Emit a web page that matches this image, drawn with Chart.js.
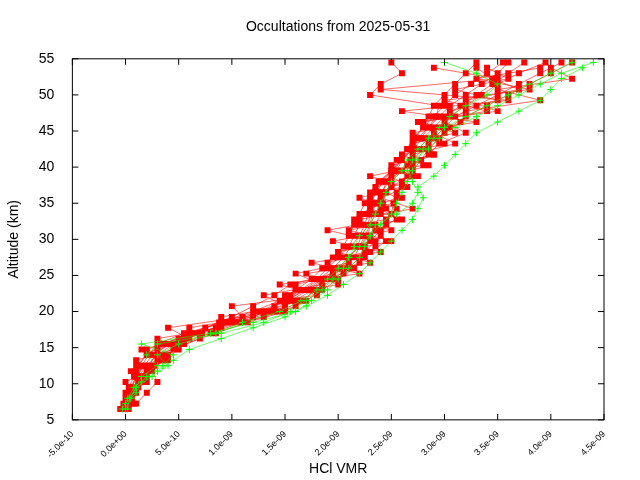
<!DOCTYPE html>
<html><head><meta charset="utf-8">
<script src="https://cdn.jsdelivr.net/npm/chart.js@4"></script>
<style>html,body{margin:0;background:#fff}#w{width:640px;height:480px}</style>
</head><body><div id="w"><canvas id="c"></canvas></div>
<script>
const altitudes=[6.5,8,9.5,11,12.5,14,15.5,17,18.5,20,21.5,23,24.5,26,27.5,29,30.5,32,33.5,35,36.5,38,39.5,41,42.5,44,45.5,47,48.5,50,51.5,53,54.5];
const altitudes2=[7.25,8.75,10.25,11.75,13.25,14.75,16.25,17.75,19.25,20.75,22.25,23.75,25.25,26.75,28.25,29.75,31.25,32.75,34.25,35.75,37.25,38.75,40.25,41.75,43.25,44.75,46.25,47.75,49.25,50.75,52.25,53.75];
// VMR values in units of 1e-9
const red1=[-0.05,0.0,0.05,0.1,0.12,0.2,0.35,0.6,0.9,1.25,1.5,1.65,1.8,1.9,2.0,2.1,2.15,2.2,2.25,2.3,2.35,2.4,2.5,2.55,2.65,2.7,2.8,2.85,2.9,3.0,3.1,3.2,3.3];
const red2=[0.02,0.05,0.1,0.18,0.25,0.35,0.5,0.8,1.1,1.45,1.65,1.8,1.95,2.1,2.2,2.25,2.3,2.35,2.4,2.42,2.45,2.5,2.6,2.7,2.8,2.9,3.0,3.1,3.3,3.5,3.7,3.9,4.1];
const red3=[-0.03,0.02,0.08,0.12,0.2,0.3,0.45,0.7,0.95,1.3,1.5,1.7,1.85,2.0,2.15,2.2,2.25,2.3,2.35,2.4,2.45,2.5,2.55,2.6,2.7,2.75,2.85,2.95,3.05,3.2,3.35,3.5,3.6];
const red4=[0.0,0.04,0.07,0.15,0.22,0.28,0.4,0.65,1.05,1.4,1.6,1.75,1.9,2.05,2.1,2.2,2.28,2.3,2.32,2.35,2.4,2.48,2.58,2.68,2.75,2.85,2.95,3.05,3.2,3.35,3.5,3.7,3.95];
const red5=[-0.04,0.01,0.03,0.08,0.1,0.2,0.38,0.62,0.88,1.2,1.45,1.6,1.75,1.85,1.95,2.05,2.1,2.15,2.2,2.25,2.3,2.38,2.5,2.58,2.65,2.72,2.8,2.9,3.0,3.1,3.25,3.4,3.55];
const red6=[0.03,0.06,0.12,0.2,0.28,0.4,0.55,0.85,1.15,1.5,1.7,1.85,2.0,2.15,2.25,2.35,2.4,2.45,2.5,2.52,2.55,2.6,2.7,2.78,2.85,2.95,3.05,3.2,3.4,3.6,3.8,4.0,4.2];
const red7=[-0.02,0.03,0.06,0.1,0.18,0.25,0.42,0.72,1.0,1.35,1.55,1.72,1.88,2.0,2.1,2.18,2.22,2.28,2.3,2.35,2.42,2.45,2.52,2.6,2.7,2.8,2.9,3.0,3.15,3.3,3.45,3.6,3.75];
const red8=[0.0,0.02,0.05,0.12,0.15,0.22,0.3,0.55,0.95,1.3,1.52,1.68,1.82,1.95,2.05,2.12,2.2,2.25,2.28,2.3,2.36,2.42,2.5,2.6,2.68,2.78,2.85,2.92,2.95,2.3,2.4,2.6,2.5];
const red9=[0.05,0.1,0.0,0.2,0.35,0.5,0.3,0.9,1.3,1.6,1.5,2.0,1.7,2.3,2.0,2.5,2.1,2.6,2.3,2.55,2.35,2.7,2.5,2.9,2.7,3.1,2.8,3.4,3.0,3.8,3.3,3.9];
const red10=[-0.02,0.08,0.15,0.05,0.3,0.15,0.6,0.4,1.1,1.0,1.8,1.45,2.2,1.75,2.4,1.95,2.5,2.15,2.45,2.2,2.6,2.3,2.8,2.6,3.0,2.7,3.3,2.6,3.6,2.4,3.5,2.9];
const red11=[0.03,0.0,0.12,0.25,0.1,0.45,0.7,0.6,1.2,1.4,1.55,1.6,2.05,1.9,2.25,2.35,1.9,2.45,2.55,2.3,2.5,2.65,2.7,2.85,2.95,3.2,3.0,3.2,3.9,3.5,4.2,4.0];
const red12=[0.08,0.05,0.2,0.1,0.4,0.2,0.5,0.85,0.9,1.5,1.3,1.85,1.6,2.1,2.0,2.3,2.4,2.2,2.7,2.4,2.65,2.5,2.85,2.7,3.1,2.9,2.75,3.5,3.2,3.7,3.45,3.3];
const red13=[0.1,0.2,0.3,0.25,0.35,0.3,0.55,0.75,1.0,1.2,1.4,1.55,1.95,2.2,2.3,2.45,2.35,2.55,2.4,2.6,2.5,2.75,2.65,2.9,2.85,3.0,3.15,3.05,3.5,3.1,3.6,3.4];
const green1=[0.0,0.05,0.1,0.15,0.3,0.2,0.3,0.9,1.3,1.55,1.7,1.85,1.95,2.05,2.1,2.2,2.3,2.4,2.5,2.55,2.6,2.65,2.7,2.75,2.8,2.9,3.0,3.2,3.4,3.6,3.8,4.0,4.2];
const green2=[-0.03,0.02,0.08,0.2,0.35,0.45,0.15,0.8,1.2,1.6,1.75,1.9,2.0,2.1,2.2,2.25,2.3,2.35,2.55,2.7,2.75,2.7,2.65,2.7,2.85,2.95,3.1,3.3,3.5,3.7,3.9,4.1,4.4];
const green3=[0.02,0.04,0.1,0.25,0.4,0.3,0.5,0.85,1.1,1.45,1.65,1.8,1.9,2.0,2.1,2.15,2.2,2.3,2.35,2.4,2.45,2.5,2.6,2.65,2.75,2.85,2.95,3.05,3.2,3.4,3.5,3.3,3.0];
const green4=[0.0,0.1,0.15,0.3,0.45,0.6,0.9,1.2,1.5,1.7,1.9,2.05,2.2,2.3,2.4,2.5,2.6,2.7,2.75,2.8,2.75,2.9,3.0,3.1,3.2,3.3,3.5,3.7,3.9,4.0,4.1,4.3];
const xTicks=[-0.5,0,0.5,1,1.5,2,2.5,3,3.5,4,4.5];
const yTicks=[5,10,15,20,25,30,35,40,45,50,55];
const titleText='Occultations from 2025-05-31';

const mk=(v,a)=>v.map((x,i)=>({x:x,y:a[i]}));
const ds=[];
const G=(g,a)=>ds.push({data:mk(g,a),showLine:true,borderColor:'#00ff00',backgroundColor:'#00ff00',borderWidth:0.6,pointStyle:'cross',pointRadius:3.5,pointBorderWidth:1});
const R=(r,a)=>ds.push({data:mk(r,a),showLine:true,borderColor:'#ff0000',backgroundColor:'#ff0000',borderWidth:0.6,pointStyle:'rect',pointRadius:4.2,pointBorderWidth:0});
[green1,green2,green3].forEach(g=>G(g,altitudes));G(green4,altitudes2);
[red1,red2,red3,red4,red5,red6,red7,red8].forEach(r=>R(r,altitudes));
[red9,red10,red11,red12,red13].forEach(r=>R(r,altitudes2));
const fmt=v=>{if(v===0)return '0.0e+00';let e=Math.floor(Math.log10(Math.abs(v)))-9;let m=v*1e-9/Math.pow(10,e);let s=e<0?'-':'+';return m.toFixed(1)+'e'+s+String(Math.abs(e)).padStart(2,'0');};
const box={id:'box',afterDraw(c){const a=c.chartArea,x=c.ctx;x.save();x.strokeStyle='#000';x.lineWidth=1;x.strokeRect(a.left,a.top,a.right-a.left,a.bottom-a.top);
 x.beginPath();xTicks.forEach(t=>{const p=c.scales.x.getPixelForValue(t);x.moveTo(p,a.bottom);x.lineTo(p,a.bottom-6);x.moveTo(p,a.top);x.lineTo(p,a.top+6);});
 yTicks.forEach(t=>{const p=c.scales.y.getPixelForValue(t);x.moveTo(a.left,p);x.lineTo(a.left+6,p);x.moveTo(a.right,p);x.lineTo(a.right-6,p);});x.stroke();
 x.fillStyle='#000';x.font='14px "Liberation Sans"';x.textAlign='center';x.textBaseline='middle';x.fillText(titleText,(a.left+a.right)/2,27);
 x.restore();}};
new Chart(document.getElementById('c'),{type:'scatter',data:{datasets:ds},plugins:[box],
options:{responsive:true,maintainAspectRatio:false,animation:false,layout:{padding:{right:36,top:0,left:6,bottom:0}},
plugins:{legend:{display:false},tooltip:{enabled:false},title:{display:true,text:titleText,color:'rgba(0,0,0,0)',font:{family:'Liberation Sans',size:14,weight:'normal'},padding:{top:18,bottom:24}}},
scales:{x:{type:'linear',min:-0.5,max:4.5,afterBuildTicks:s=>{s.ticks=xTicks.map(v=>({value:v}));},grid:{display:false},border:{display:false},
 ticks:{color:'#000',minRotation:45,maxRotation:45,padding:1,font:{family:'Liberation Sans',size:9},callback:v=>fmt(v)},
 title:{display:true,text:'HCl VMR',color:'#000',font:{family:'Liberation Sans',size:14},padding:{top:0,bottom:2}}},
 y:{min:5,max:55,afterBuildTicks:s=>{s.ticks=yTicks.map(v=>({value:v}));},grid:{display:false},border:{display:false},
 ticks:{color:'#000',padding:10,font:{family:'Liberation Sans',size:14}},
 title:{display:true,text:'Altitude (km)',color:'#000',font:{family:'Liberation Sans',size:14},padding:{top:0,bottom:6}}}}}});
</script></body></html>
